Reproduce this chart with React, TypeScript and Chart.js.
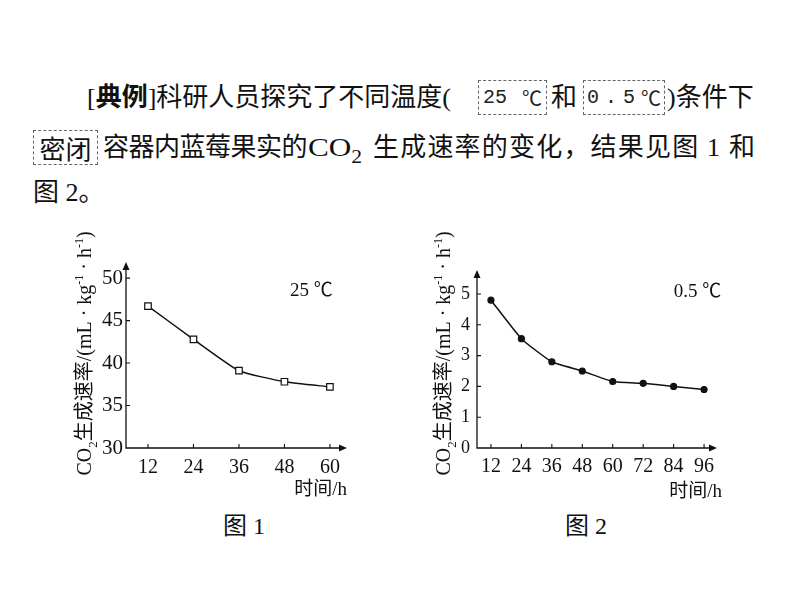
import React, { useEffect, useRef } from "react";
import { Chart, registerables } from "chart.js";

Chart.register(...registerables);

// ---------------- data ----------------
const hours1 = [12, 24, 36, 48, 60];
const rate25 = [46.7, 42.8, 39.1, 37.8, 37.2];
const yTicks1 = [30, 35, 40, 45, 50];

const hours2 = [12, 24, 36, 48, 60, 72, 84, 96];
const rate05 = [4.8, 3.55, 2.8, 2.5, 2.16, 2.1, 2.0, 1.9];
const yTicks2 = [0, 1, 2, 3, 4, 5];

const tempLabel1 = "25 ℃";
const tempLabel2 = "0.5 ℃";
const xTitle = "时间/h";

const SERIF = '"Liberation Serif", "Times New Roman", "Noto Sans CJK SC", serif';
const INK = "#111";

type Seg = { t: string; s: number; dy: number };
const yTitleSegs: Seg[] = [
  { t: "CO", s: 20, dy: 0 },
  { t: "2", s: 13, dy: 6 },
  { t: "生成速率", s: 20, dy: 0 },
  { t: "/(mL · kg", s: 20, dy: 0 },
  { t: "-1", s: 12, dy: -8 },
  { t: " · h", s: 20, dy: 0 },
  { t: "-1", s: 12, dy: -8 },
  { t: ")", s: 20, dy: 0 },
];

type Spec = {
  xs: number[];
  ys: number[];
  xMin: number;
  xMax: number;
  xTicks: number[];
  yMin: number;
  yMax: number;
  yTicks: number[];
  yAxisWidth: number;
  xAxisHeight: number;
  padTop: number;
  padRight: number;
  yTickSize: number;
  yTickPad: number;
  xTickPad: number;
  titleX: number;
  titleCY: number;
  xTitleRight: number;
  xTitleY: number;
  temp: string;
  tempX: number;
  tempY: number;
  pointStyle: string;
  pointRadius: number;
  pointFill: string;
};

function decorPlugin(spec: Spec) {
  return {
    id: "decor",
    afterDraw(chart: any) {
      const ctx = chart.ctx as CanvasRenderingContext2D;
      const { left, right, top, bottom } = chart.chartArea;
      const xs = chart.scales.x;
      const ys = chart.scales.y;
      ctx.save();
      ctx.strokeStyle = INK;
      ctx.fillStyle = INK;
      ctx.lineWidth = 1.3;
      ctx.beginPath();
      ctx.moveTo(left, top + 4);
      ctx.lineTo(left, bottom);
      ctx.lineTo(right - 4, bottom);
      ctx.stroke();
      // arrowheads
      ctx.beginPath();
      ctx.moveTo(left, top);
      ctx.lineTo(left - 3.5, top + 8);
      ctx.lineTo(left + 3.5, top + 8);
      ctx.closePath();
      ctx.fill();
      ctx.beginPath();
      ctx.moveTo(right, bottom);
      ctx.lineTo(right - 8, bottom - 3.5);
      ctx.lineTo(right - 8, bottom + 3.5);
      ctx.closePath();
      ctx.fill();
      // inward ticks
      ctx.lineWidth = 1.1;
      ctx.beginPath();
      spec.xTicks.forEach((v) => {
        const p = xs.getPixelForValue(v);
        ctx.moveTo(p, bottom);
        ctx.lineTo(p, bottom - 4);
      });
      spec.yTicks.forEach((v) => {
        if (v === spec.yMin) return;
        const p = ys.getPixelForValue(v);
        ctx.moveTo(left, p);
        ctx.lineTo(left + 4, p);
      });
      ctx.stroke();

      // rotated y title with sub/superscripts
      ctx.save();
      ctx.translate(spec.titleX, spec.titleCY);
      ctx.rotate(-Math.PI / 2);
      ctx.textBaseline = "alphabetic";
      ctx.textAlign = "left";
      let total = 0;
      const widths = yTitleSegs.map((g) => {
        ctx.font = `${g.s}px ${SERIF}`;
        const w = ctx.measureText(g.t).width;
        total += w;
        return w;
      });
      let cx = -total / 2;
      yTitleSegs.forEach((g, i) => {
        ctx.font = `${g.s}px ${SERIF}`;
        ctx.fillText(g.t, cx, 7 + g.dy);
        cx += widths[i];
      });
      ctx.restore();

      // x title
      ctx.font = `19px ${SERIF}`;
      ctx.textAlign = "right";
      ctx.textBaseline = "middle";
      ctx.fillText(xTitle, spec.xTitleRight, spec.xTitleY);

      // temperature label
      ctx.textAlign = "center";
      ctx.font = `19px ${SERIF}`;
      ctx.fillText(spec.temp, spec.tempX, spec.tempY);
      ctx.restore();
    },
  };
}

function Panel({ spec, left, top, width, height }: { spec: Spec; left: number; top: number; width: number; height: number }) {
  const ref = useRef<HTMLCanvasElement | null>(null);
  useEffect(() => {
    if (!ref.current) return;
    const chart = new Chart(ref.current, {
      type: "line",
      data: {
        datasets: [
          {
            data: spec.xs.map((x, i) => ({ x, y: spec.ys[i] })),
            borderColor: INK,
            borderWidth: 1.5,
            tension: 0.15,
            pointStyle: spec.pointStyle as any,
            pointRadius: spec.pointRadius,
            pointBackgroundColor: spec.pointFill,
            pointBorderColor: INK,
            pointBorderWidth: 1.2,
            clip: false as any,
          },
        ],
      },
      options: {
        animation: false,
        responsive: false,
        devicePixelRatio: 1,
        layout: { autoPadding: false, padding: { left: 0, top: spec.padTop, right: spec.padRight, bottom: 0 } },
        plugins: { legend: { display: false }, tooltip: { enabled: false } },
        scales: {
          x: {
            type: "linear",
            min: spec.xMin,
            max: spec.xMax,
            grid: { display: false, drawTicks: false },
            border: { display: false },
            ticks: {
              color: INK,
              font: { family: SERIF, size: 20 },
              padding: spec.xTickPad,
              maxRotation: 0,
              autoSkip: false,
            },
            afterBuildTicks: (s: any) => {
              s.ticks = spec.xTicks.map((v) => ({ value: v }));
            },
            afterFit: (s: any) => {
              s.height = spec.xAxisHeight;
            },
          },
          y: {
            type: "linear",
            min: spec.yMin,
            max: spec.yMax,
            grid: { display: false, drawTicks: false },
            border: { display: false },
            ticks: {
              color: INK,
              font: { family: SERIF, size: spec.yTickSize },
              padding: spec.yTickPad,
              autoSkip: false,
            },
            afterBuildTicks: (s: any) => {
              s.ticks = spec.yTicks.map((v) => ({ value: v }));
            },
            afterFit: (s: any) => {
              s.width = spec.yAxisWidth;
            },
          },
        },
      } as any,
      plugins: [decorPlugin(spec) as any],
    });
    return () => chart.destroy();
  }, []);
  return (
    <canvas
      ref={ref}
      width={width}
      height={height}
      style={{ position: "absolute", left, top, width, height }}
    />
  );
}

const spec1: Spec = {
  xs: hours1,
  ys: rate25,
  xMin: 6.2,
  xMax: 64.5,
  xTicks: hours1,
  yMin: 30,
  yMax: 51.9,
  yTicks: yTicks1,
  yAxisWidth: 76,
  xAxisHeight: 62,
  padTop: 42,
  padRight: 13,
  yTickSize: 21,
  yTickPad: 3,
  xTickPad: 8,
  titleX: 33.5,
  titleCY: 133.5,
  xTitleRight: 297,
  xTitleY: 270,
  temp: tempLabel1,
  tempX: 261.5,
  tempY: 71,
  pointStyle: "rect",
  pointRadius: 4.6,
  pointFill: "#fff",
};

const spec2: Spec = {
  xs: hours2,
  ys: rate05,
  xMin: 6.5,
  xMax: 101.1,
  xTicks: hours2,
  yMin: 0,
  yMax: 5.78,
  yTicks: yTicks2,
  yAxisWidth: 67,
  xAxisHeight: 62,
  padTop: 50,
  padRight: 13,
  yTickSize: 18,
  yTickPad: 7,
  xTickPad: 7,
  titleX: 33,
  titleCY: 133.5,
  xTitleRight: 312,
  xTitleY: 272,
  temp: tempLabel2,
  tempX: 287.5,
  tempY: 72,
  pointStyle: "circle",
  pointRadius: 3,
  pointFill: INK,
};

const txt: React.CSSProperties = {
  position: "absolute",
  fontFamily: SERIF,
  fontSize: 26,
  lineHeight: "30px",
  whiteSpace: "nowrap",
  color: INK,
};

const box: React.CSSProperties = {
  position: "absolute",
  boxSizing: "border-box",
  border: "1px dashed #666",
  height: 35,
  display: "flex",
  alignItems: "center",
  justifyContent: "space-between",
  fontFamily: '"Liberation Mono", "DejaVu Sans Mono", monospace',
  fontSize: 20,
  color: "#222",
};

export default function App() {
  return (
    <div
      style={{
        position: "absolute",
        left: 0,
        top: 0,
        width: 794,
        height: 603,
        background: "#fff",
        overflow: "hidden",
      }}
    >
      {/* line 1 */}
      <div style={{ ...txt, left: 87, top: 83 }}>
        [<b>典例</b>]科研人员探究了不同温度(
      </div>
      <div style={{ ...box, left: 478, top: 80, width: 69, padding: "0 4px" }}>
        <span>25</span>
        <span style={{ fontFamily: SERIF, fontSize: 20 }}>℃</span>
      </div>
      <div style={{ ...txt, left: 551, top: 83 }}>和</div>
      <div style={{ ...box, left: 583, top: 80, width: 82, padding: "0 3px" }}>
        <span>0</span>
        <span>.</span>
        <span>5</span>
        <span style={{ fontFamily: SERIF, fontSize: 20 }}>℃</span>
      </div>
      <div style={{ ...txt, left: 667, top: 83 }}>)条件下</div>

      {/* line 2 */}
      <div style={{ ...box, left: 33, top: 130, width: 65, justifyContent: "center", fontFamily: SERIF, fontSize: 26, color: INK }}>
        密闭
      </div>
      <div style={{ ...txt, left: 103, top: 133, letterSpacing: -0.5 }}>容器内蓝莓果实的</div>
      <div style={{ ...txt, left: 308, top: 133, transform: "scaleX(1.2)", transformOrigin: "left center" }}>
        CO<span style={{ fontSize: 18, position: "relative", top: 7 }}>2</span>
      </div>
      <div style={{ ...txt, left: 373, top: 133, letterSpacing: 1.2 }}>生成速率的变化，结果见图 1 和</div>

      {/* line 3 */}
      <div style={{ ...txt, left: 33, top: 178 }}>图 2。</div>

      <Panel spec={spec1} left={50} top={220} width={310} height={290} />
      <Panel spec={spec2} left={410} top={220} width={320} height={290} />

      <div style={{ ...txt, fontSize: 24, left: 223, top: 511 }}>图 1</div>
      <div style={{ ...txt, fontSize: 24, left: 565, top: 511 }}>图 2</div>
    </div>
  );
}
